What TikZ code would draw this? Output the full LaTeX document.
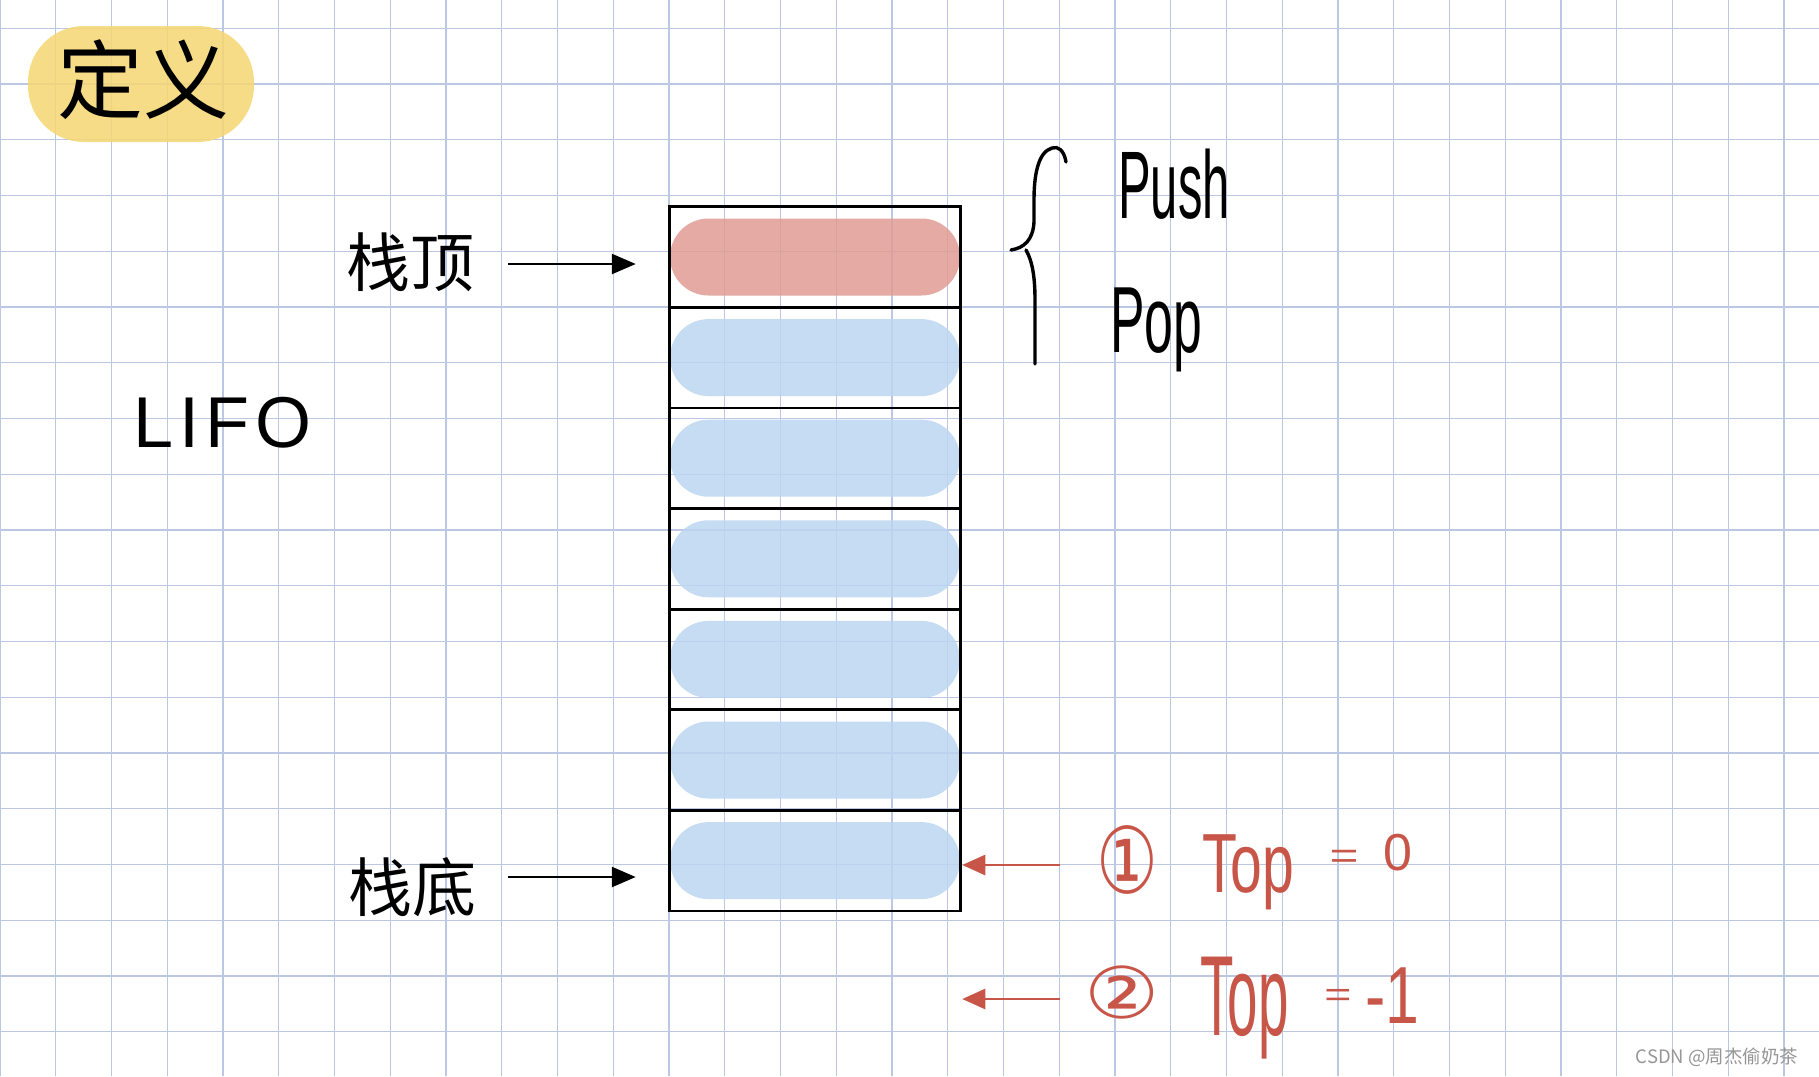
\documentclass[tikz,border=0pt]{standalone}
\usepackage{fontspec}
\usepackage{graphicx}
\usetikzlibrary{arrows.meta}
\newfontfamily\cjk{Noto Sans CJK SC}
\newfontfamily\hand{Liberation Sans}
\newfontfamily\symb{DejaVu Sans}
\definecolor{gridc}{RGB}{188,199,228}
\definecolor{pillblue}{RGB}{187,214,242}
\definecolor{pillred}{RGB}{224,156,148}
\definecolor{blobyellow}{RGB}{246,215,115}
\definecolor{inkred}{RGB}{200,86,72}
\definecolor{wmgray}{RGB}{150,150,150}
\tikzset{
  gridline/.style={draw=gridc, line width=1.3pt},
  cell/.style={draw=black, line width=2.8pt, minimum width=291.7pt, minimum height=100.6pt, inner sep=0pt},
  pill/.style={rounded corners=38.5pt, minimum width=290pt, minimum height=77pt, inner sep=0pt, fill opacity=0.85},
  blob/.style={fill=blobyellow, fill opacity=0.85, rounded corners=56pt, minimum width=226pt, minimum height=116pt, inner sep=0pt},
  blackarrow/.style={draw=black, line width=2.6pt, -{Triangle[length=24pt,width=20pt]}},
  redarrow/.style={draw=inkred, line width=2.6pt, -{Triangle[length=23pt,width=20pt]}},
  lbl/.style={inner sep=0pt, text=black},
  redtxt/.style={inner sep=0pt, text=inkred},
}
\begin{document}
\begin{tikzpicture}[x=1pt,y=-1pt]
\useasboundingbox (0,0) rectangle (1819,1076);
\fill[white] (0,0) rectangle (1819,1076);
% grid
\foreach \i in {0,...,32} \draw[gridline] (\i*55.75,0) -- (\i*55.75,1076);
\foreach \j in {0,...,18} \draw[gridline] (0,28.3+\j*55.75) -- (1819,28.3+\j*55.75);
% title
\node[blob] (defbg) at (141,84) {};
\node[lbl, font=\cjk\fontsize{86}{90}\selectfont] (def) at (143,80) {定义};
% LIFO
\node[lbl, anchor=base west, font=\hand\fontsize{72}{76}\selectfont] (lifo) at (133,447) {L\hspace{6pt}I\hspace{6pt}F\hspace{6pt}O};
% stack pills
\node[pill, fill=pillred] (p0) at (815,257) {};
\foreach \k in {1,...,6} \node[pill, fill=pillblue] (p\k) at (815,206.7+100.6*\k+50.3) {};
% stack cells
\foreach \k in {0,...,6} \node[cell] (r\k) at (815,206.7+100.6*\k+50.3) {};
% labels
\node[lbl, font=\cjk\fontsize{64}{70}\selectfont] (ltop) at (410,262) {栈顶};
\node[lbl, font=\cjk\fontsize{64}{70}\selectfont] (lbot) at (412,887) {栈底};
\draw[blackarrow, shorten <=34pt, shorten >=32pt] ([yshift=-2pt]ltop.east) -- ([yshift=-2pt]ltop.east -| r0.west);
\draw[blackarrow, shorten <=32pt, shorten >=32pt] ([yshift=10pt]lbot.east) -- ([yshift=10pt]lbot.east -| r6.west);
% brace
\draw[line width=3.4pt, line cap=round] (1066,162) .. controls (1064,150) and (1058,146) .. (1052,148) .. controls (1038,152) and (1034,175) .. (1034,200) -- (1034,222) .. controls (1033,240) and (1024,248) .. (1011,250);
\draw[line width=3.4pt, line cap=round] (1026,250) .. controls (1033,262) and (1035,280) .. (1035,300) -- (1035,364);
\node[lbl, anchor=base west, font=\hand\fontsize{96}{100}\selectfont] (push) at (1118,218) {\scalebox{0.51}[1]{Push}};
\node[lbl, anchor=base west, font=\hand\fontsize{94}{100}\selectfont] (pop) at (1110,352) {\scalebox{0.55}[1]{Pop}};
% red arrows
\coordinate (c1) at (1060,865);
\coordinate (c2) at (1060,999);
\draw[redarrow] (c1) -- (c1 -| r6.east);
\draw[redarrow] (c2) -- (c2 -| r6.east);
% red texts
\node[redtxt, font=\symb\fontsize{92}{96}\selectfont] (n1) at (1127,860) {\scalebox{0.75}[1]{①}};
\node[redtxt, anchor=base west, font=\hand\fontsize{84}{90}\selectfont] (top1) at (1202,892) {\scalebox{0.68}[1]{Top}};
\node[redtxt, font=\hand\fontsize{62}{66}\selectfont] (eq1) at (1344,859) {\scalebox{0.8}[0.6]{=}};
\node[redtxt, anchor=base west, font=\hand\fontsize{52}{56}\selectfont] (zero) at (1383,870) {0};
\node[redtxt, font=\symb\fontsize{84}{90}\selectfont] (n2) at (1122,992) {\scalebox{1}[0.85]{②}};
\node[redtxt, anchor=base west, font=\hand\fontsize{114}{120}\selectfont] (top2) at (1200,1035) {\scalebox{0.48}[1]{Top}};
\node[redtxt, font=\hand\fontsize{58}{62}\selectfont] (eq2) at (1338,998) {\scalebox{0.8}[0.6]{=}};
\node[redtxt, anchor=base west, font=\hand\fontsize{81}{86}\selectfont] (m1) at (1365,1023) {\scalebox{0.75}[1]{-1}};
% watermark
\node[inner sep=0pt, text=wmgray, font=\cjk\fontsize{18.5}{20}\selectfont] (wm) at (1717,1057) {CSDN @周杰偷奶茶};
\end{tikzpicture}
\end{document}
